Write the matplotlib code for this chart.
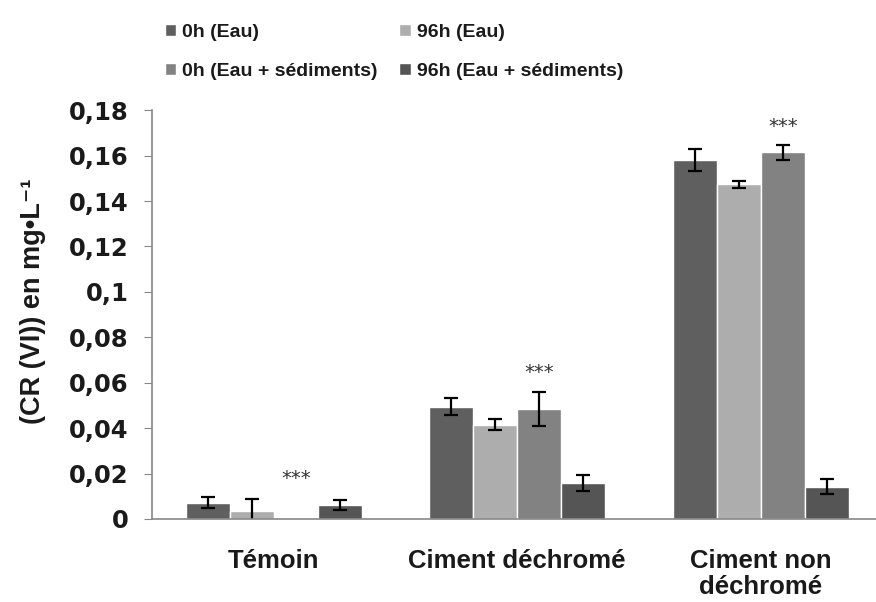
import matplotlib
matplotlib.use("Agg")
import matplotlib.pyplot as plt
import numpy as np
from matplotlib.ticker import FuncFormatter

categories = ["Témoin", "Ciment déchromé", "Ciment non\ndéchromé"]
series = ["0h (Eau)", "96h (Eau)", "0h (Eau + sédiments)", "96h (Eau + sédiments)"]
values = [
    [0.0072, 0.0495, 0.158],
    [0.0037, 0.0415, 0.1474],
    [0.0, 0.0486, 0.1615],
    [0.0062, 0.016, 0.0142],
]
errors = [
    [0.0024, 0.0036, 0.0048],
    [0.005, 0.0023, 0.0015],
    [0.0, 0.0075, 0.0033],
    [0.0022, 0.0035, 0.0032],
]
# stars placed above the third series
stars_y = [0.0176, 0.0643, 0.1728]
colors = ["#5f5f5f", "#adadad", "#828282", "#555555"]

plt.rcParams['font.family'] = ["Liberation Sans", "DejaVu Sans"]

fig = plt.figure(figsize=(8.76, 6.02), dpi=100)
# the x axis runs past the right edge of the picture
ax = fig.add_axes([152 / 876, 0.138, 730.5 / 876, 0.679])

x = np.arange(len(categories))
w = 0.181
bars = []
for i in range(4):
    pos = x + (i - 1.5) * w
    b = ax.bar(pos, values[i], w, color=colors[i], edgecolor="white", linewidth=1, label=series[i])
    bars.append(b)
    for j in range(3):
        if values[i][j] > 0:
            ax.errorbar(pos[j], values[i][j], yerr=errors[i][j], fmt="none",
                        ecolor="black", elinewidth=1.6, capsize=5, capthick=1.6)

for j in range(3):
    ax.text(x[j] + 0.5 * w, stars_y[j], "***", ha="center", va="center",
            fontsize=14, color="#333333", family="DejaVu Sans")

ax.set_xlim(-0.5, 2.5)
ax.set_ylim(0, 0.18)
ax.set_yticks(np.arange(0, 0.181, 0.02))
ax.yaxis.set_major_formatter(FuncFormatter(lambda v, p: ("%g" % round(v, 2)).replace(".", ",")))
ax.set_xticks(x)
ax.set_xticklabels(categories, fontsize=18.5, fontweight="bold", color="#1a1a1a", linespacing=1.1)
ax.tick_params(axis="x", length=0, pad=22)
ax.tick_params(axis="y", direction="out", length=6, color="#888888", pad=11)
for lab in ax.get_yticklabels():
    lab.set_family("DejaVu Sans")
    lab.set_fontsize(17.5)
    lab.set_fontweight("bold")
    lab.set_color("#1a1a1a")

for s in ["top", "right"]:
    ax.spines[s].set_visible(False)
ax.spines["left"].set_color("#888888")
ax.spines["bottom"].set_color("#888888")
ax.spines["left"].set_linewidth(1.2)
ax.spines["bottom"].set_linewidth(1.2)

fig.text(33 / 876, 1 - 301 / 602, "(CR (VI)) en mg•L⁻¹", rotation=90,
         ha="center", va="center", fontsize=19.5, fontweight="bold", color="#1a1a1a",
         family=["Liberation Sans", "DejaVu Sans"])

order = [0, 2, 1, 3]
leg = fig.legend([bars[k] for k in order], [series[k] for k in order],
                 loc="upper left", bbox_to_anchor=(155 / 876, 1 - 14 / 602), ncol=2,
                 frameon=False, borderpad=0, handlelength=0.6, handleheight=0.6,
                 handletextpad=0.3, columnspacing=1.1, labelspacing=1.15,
                 prop={"size": 14, "weight": "bold"})
for t in leg.get_texts():
    t.set_color("#1a1a1a")

fig.savefig("out.png", dpi=100)
